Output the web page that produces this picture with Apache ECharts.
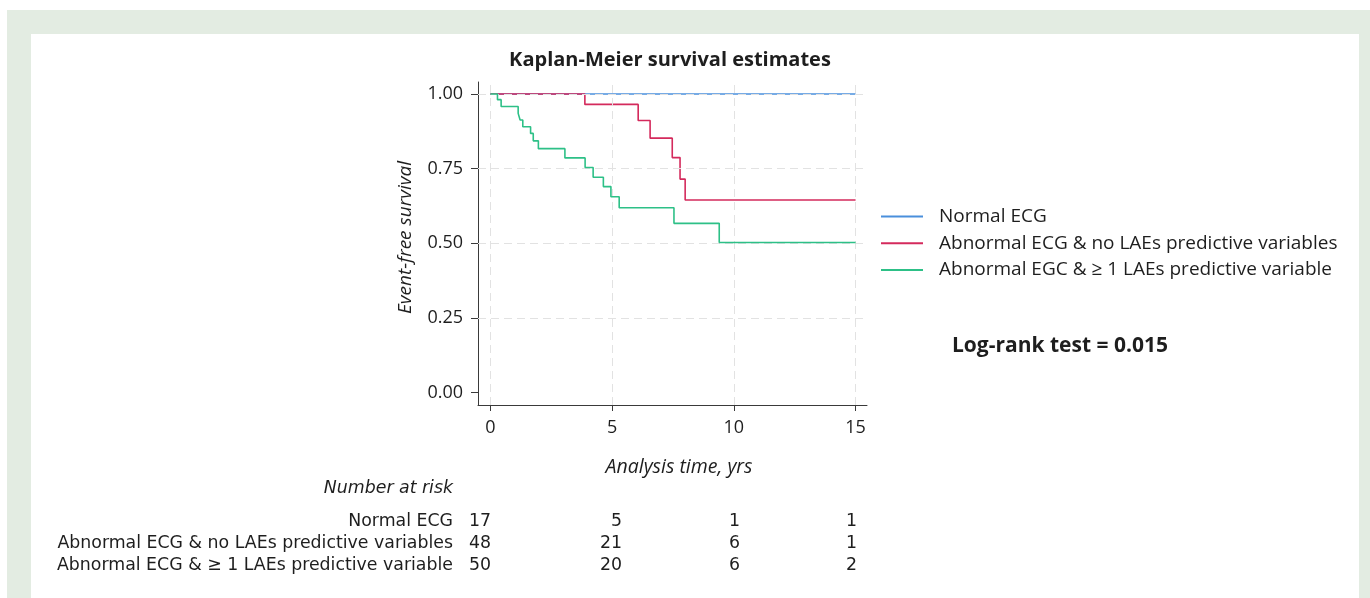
<!DOCTYPE html>
<html>
<head>
<meta charset="utf-8">
<script src="https://cdn.jsdelivr.net/npm/echarts@6/dist/echarts.min.js"></script>
<style>
  html, body { margin: 0; padding: 0; width: 1370px; height: 598px; background: #ffffff; overflow: hidden; }
  #frame { position: absolute; left: 7px; top: 10px; right: 0; bottom: 0; background: #e3ece2; }
  #panel { position: absolute; left: 31px; top: 34px; width: 1328px; bottom: 0; background: #ffffff; }
  #chart { position: absolute; left: 0; top: 0; width: 1370px; height: 598px; }
</style>
</head>
<body>
<div id="frame"></div>
<div id="panel"></div>
<div id="chart"></div>
<script>
// ---------------- data ----------------
const timeTicks = [0, 5, 10, 15];
const survivalTicks = [0, 0.25, 0.5, 0.75, 1];
const gridSurvival = [0.25, 0.5, 0.75, 1];

const seriesNames = [
  'Normal ECG',
  'Abnormal ECG & no LAEs predictive variables',
  'Abnormal EGC & \u2265 1 LAEs predictive variable'
];

const normalTimes = [0, 15];
const normalSurv  = [1, 1];

const abnNoTimes = [0, 3.88, 6.07, 6.56, 7.47, 7.79, 8.00, 15];
const abnNoSurv  = [1, 0.965, 0.911, 0.852, 0.787, 0.715, 0.645, 0.645];

const abnGeTimes = [0, 0.29, 0.44, 1.14, 1.22, 1.33, 1.65, 1.76, 1.97, 3.06, 3.89, 4.22, 4.64, 4.95, 5.29, 7.54, 9.40, 15];
const abnGeSurv  = [1, 0.981, 0.958, 0.935, 0.913, 0.890, 0.868, 0.843, 0.817, 0.786, 0.754, 0.721, 0.690, 0.656, 0.619, 0.567, 0.503, 0.503];

const riskTitle = 'Number at risk';
const riskLabels = [
  'Normal ECG',
  'Abnormal ECG & no LAEs predictive variables',
  'Abnormal ECG & \u2265 1 LAEs predictive variable'
];
const riskTimes = [0, 5, 10, 15];
const riskNormal = [17, 5, 1, 1];
const riskAbnNo  = [48, 21, 6, 1];
const riskAbnGe  = [50, 20, 6, 2];

const logRankText = 'Log-rank test = 0.015';

// ---------------- layout / style ----------------
const colors = ['#4a8fdc', '#d42a5c', '#2dc087'];
const textColor = '#1e1e1e';
const axisColor = '#3a3a3a';
const mainFont = '"Open Sans", "Noto Sans", sans-serif';
const tableFontFamily = '"Liberation Sans Narrow", "DejaVu Sans Condensed", "Roboto", "Open Sans", sans-serif';
const tableFontSize = 18;

const table = {
  labelRight: 453,
  titleY: 488.5,
  rowY: [521.5, 543.5, 565.5],
  colRight: [491, 622, 740, 857],
  targetLabelWidth: 396
};

function zip(xs, ys) { return xs.map((x, i) => [x, ys[i]]); }

// fit the table's lettering to its width
const ctx = document.createElement('canvas').getContext('2d');
ctx.font = tableFontSize + 'px ' + tableFontFamily;
const longest = riskLabels.reduce((a, b) => (ctx.measureText(b).width > ctx.measureText(a).width ? b : a));
const measured = ctx.measureText(longest).width;
const sx = table.targetLabelWidth / measured;

const riskRows = [riskNormal, riskAbnNo, riskAbnGe];
const graphicEls = [];
graphicEls.push({
  type: 'text', x: table.labelRight, y: table.titleY, scaleX: sx,
  style: { text: riskTitle, font: 'italic ' + tableFontSize + 'px ' + tableFontFamily, fill: textColor, align: 'right', verticalAlign: 'middle' }
});
riskLabels.forEach((lab, r) => {
  graphicEls.push({
    type: 'text', x: table.labelRight, y: table.rowY[r], scaleX: sx,
    style: { text: lab, font: tableFontSize + 'px ' + tableFontFamily, fill: textColor, align: 'right', verticalAlign: 'middle' }
  });
  riskTimes.forEach((t, c) => {
    graphicEls.push({
      type: 'text', x: table.colRight[c], y: table.rowY[r], scaleX: sx,
      style: { text: String(riskRows[r][c]), font: tableFontSize + 'px ' + tableFontFamily, fill: textColor, align: 'right', verticalAlign: 'middle' }
    });
  });
});

const chart = echarts.init(document.getElementById('chart'), null, { renderer: 'canvas' });

const option = {
  backgroundColor: 'transparent',
  animation: false,
  textStyle: { fontFamily: mainFont, color: textColor },
  title: [
    { text: 'Kaplan-Meier survival estimates', left: 670, top: 50, textAlign: 'center', padding: 0,
      textStyle: { fontSize: 20, fontWeight: 'bold', color: textColor, fontFamily: mainFont } },
    { text: 'Analysis time, yrs', left: 679, top: 457, textAlign: 'center', padding: 0,
      textStyle: { fontSize: 19.5, fontStyle: 'italic', fontWeight: 'normal', color: textColor, fontFamily: mainFont } },
    { text: logRankText, left: 952, top: 336, padding: 0,
      textStyle: { fontSize: 21, fontWeight: 'bold', color: textColor, fontFamily: mainFont } }
  ],
  legend: {
    orient: 'vertical',
    left: 881, top: 205.5, padding: 0,
    itemWidth: 42, itemHeight: 2, itemGap: 4.7,
    icon: 'rect',
    data: seriesNames,
    textStyle: { fontSize: 19, lineHeight: 22, color: textColor, fontFamily: mainFont, padding: [0, 0, 0, 11] }
  },
  grid: { left: 478, right: 503, top: 82, bottom: 193, containLabel: false },
  xAxis: {
    type: 'value', min: -0.51, max: 15.47,
    axisLine: { show: true, onZero: false, lineStyle: { color: axisColor, width: 1 } },
    axisTick: { show: true, customValues: timeTicks, length: 6, lineStyle: { color: axisColor } },
    axisLabel: { customValues: timeTicks, fontSize: 18, margin: 14, color: textColor, fontFamily: mainFont },
    splitLine: { show: false }
  },
  yAxis: {
    type: 'value', min: -0.041, max: 1.04,
    name: 'Event-free survival', nameLocation: 'middle', nameGap: 63, nameRotate: 90,
    nameTextStyle: { fontSize: 19, fontStyle: 'italic', color: textColor, fontFamily: mainFont, padding: [0, 0, 0, 12] },
    axisLine: { show: true, onZero: false, lineStyle: { color: axisColor, width: 1 } },
    axisTick: { show: true, customValues: survivalTicks, length: 7, lineStyle: { color: axisColor } },
    axisLabel: { customValues: survivalTicks, fontSize: 18, margin: 15, color: textColor, fontFamily: mainFont,
      formatter: v => Number(v).toFixed(2) },
    splitLine: { show: false }
  },
  series: [
    {
      name: '_grid', type: 'line', data: [[0, 1]], showSymbol: false, z: 1, silent: true,
      lineStyle: { opacity: 0 },
      markLine: {
        silent: true, symbol: ['none', 'none'], label: { show: false },
        lineStyle: { type: [8, 5], color: '#e2e2e2', width: 1 },
        data: timeTicks.map(v => ({ xAxis: v })).concat(gridSurvival.map(v => ({ yAxis: v })))
      }
    },
    { name: seriesNames[0], type: 'line', step: 'end', showSymbol: false, symbol: 'none', z: 3,
      data: zip(normalTimes, normalSurv), lineStyle: { color: colors[0], width: 1.6 }, itemStyle: { color: colors[0] } },
    { name: seriesNames[1], type: 'line', step: 'end', showSymbol: false, symbol: 'none', z: 4,
      data: zip(abnNoTimes, abnNoSurv), lineStyle: { color: colors[1], width: 1.6 }, itemStyle: { color: colors[1] } },
    { name: seriesNames[2], type: 'line', step: 'end', showSymbol: false, symbol: 'none', z: 5,
      data: zip(abnGeTimes, abnGeSurv), lineStyle: { color: colors[2], width: 1.6 }, itemStyle: { color: colors[2] } }
  ],
  graphic: { elements: graphicEls }
};

chart.setOption(option);
</script>
</body>
</html>
